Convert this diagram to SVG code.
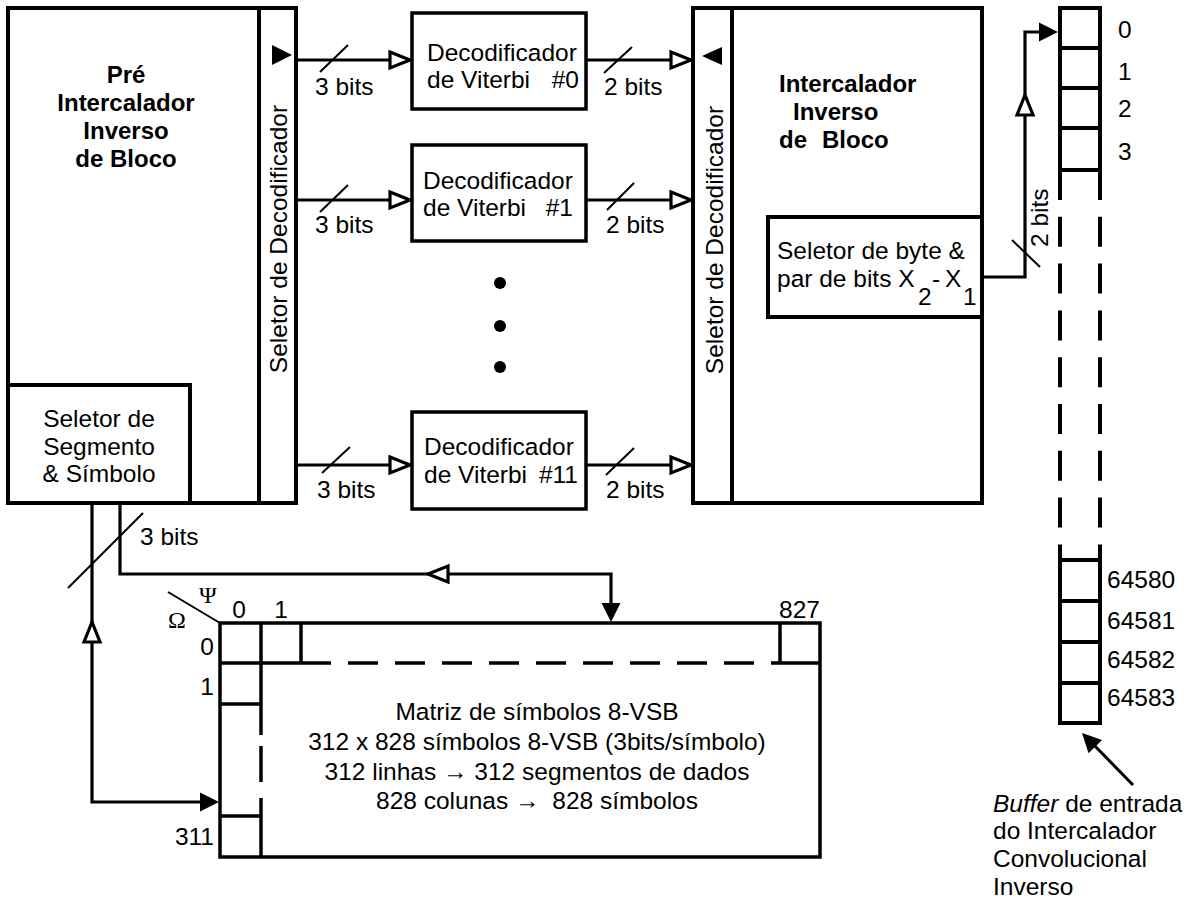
<svg xmlns="http://www.w3.org/2000/svg" width="1194" height="902" viewBox="0 0 1194 902">
<style>
.t{font-family:"Liberation Sans",Arial,sans-serif;font-size:24.5px;fill:#000}
.b{font-weight:bold;font-size:24px}
.s{font-family:"Liberation Serif","Times New Roman",serif;font-size:24px;fill:#000}
.m{text-anchor:middle}
.e{text-anchor:end}
.box{fill:#fff;stroke:#000;stroke-width:4}
.vb{fill:#fff;stroke:#000;stroke-width:3.5}
.ln{fill:none;stroke:#000;stroke-width:3.2}
.sl{fill:none;stroke:#000;stroke-width:2}
.dash{fill:none;stroke:#000;stroke-width:3.5;stroke-dasharray:30 17}
.oh{fill:#fff;stroke:#000;stroke-width:3.2;stroke-linejoin:miter}
.fh{fill:#000;stroke:none}
</style>
<defs>
<polygon id="oa" class="oh" points="-20,-8 0,0 -20,8"/>
<polygon id="fa" class="fh" points="-19,-9.5 0,0 -19,9.5"/>
</defs>
<rect width="1194" height="902" fill="#fff"/>

<g id="pre-intercalador">
<rect class="box" x="8" y="8" width="251" height="495"/>
<text class="t b m" x="126" y="83">Pré</text>
<text class="t b m" x="126" y="111">Intercalador</text>
<text class="t b m" x="126" y="139">Inverso</text>
<text class="t b m" x="126" y="167">de Bloco</text>
</g>
<g id="seletor-segmento">
<rect class="box" x="8" y="385" width="182" height="118"/>
<text class="t m" x="99" y="427">Seletor de</text>
<text class="t m" x="99" y="455">Segmento</text>
<text class="t m" x="99" y="482">&amp; Símbolo</text>
</g>
<g id="seletor-decodificador-esq">
<rect class="box" x="259" y="8" width="37" height="495"/>
<text class="t m" transform="translate(287,239) rotate(-90)">Seletor de Decodificador</text>
<polygon class="fh" points="272,45 292,55 272,65"/>
</g>

<g id="viterbi0">
<rect class="vb" x="412" y="13" width="174" height="96"/>
<text class="t" x="427" y="61">Decodificador</text>
<text class="t" x="427" y="88">de Viterbi</text>
<text class="t e" x="579" y="88">#0</text>
</g>
<g id="viterbi1">
<rect class="vb" x="412" y="145" width="174" height="96"/>
<text class="t" x="423" y="189">Decodificador</text>
<text class="t" x="423" y="216">de Viterbi</text>
<text class="t e" x="573" y="216">#1</text>
</g>
<g id="reticencias">
<circle cx="500" cy="283" r="6"/>
<circle cx="500" cy="326" r="6"/>
<circle cx="500" cy="367" r="6"/>
</g>
<g id="viterbi11">
<rect class="vb" x="412" y="412" width="174" height="97"/>
<text class="t" x="424" y="455">Decodificador</text>
<text class="t" x="424" y="483">de Viterbi</text>
<text class="t e" x="578" y="483">#11</text>
</g>

<g id="seletor-decodificador-dir">
<rect class="box" x="693" y="8" width="39" height="495"/>
<text class="t m" transform="translate(723,240) rotate(-90)">Seletor de Decodificador</text>
<polygon class="fh" points="722,47 702,56 722,65"/>
</g>
<g id="intercalador-inverso">
<rect class="box" x="732" y="8" width="250" height="495"/>
<text class="t b" x="779" y="92">Intercalador</text>
<text class="t b" x="793" y="120">Inverso</text>
<text class="t b" x="779" y="148">de</text>
<text class="t b" x="822" y="148">Bloco</text>
</g>
<g id="seletor-byte">
<rect class="box" x="768" y="217" width="214" height="100"/>
<text class="t" x="777" y="259">Seletor de byte &amp;</text>
<text class="t" x="777" y="287">par de bits X</text>
<text class="t" x="918" y="305">2</text>
<text class="t" x="932" y="287">-</text>
<text class="t" x="945" y="287">X</text>
<text class="t" x="963" y="305">1</text>
</g>

<g id="buffer">
<path class="ln" style="stroke-width:4" d="M1060,8 H1100 M1060,48 H1100 M1060,88 H1100 M1060,128 H1100 M1060,170 H1100 M1060,6 V170 M1100,6 V170"/>
<path class="dash" style="stroke-width:4;stroke-dasharray:30 16.8" d="M1060,170 V545 M1100,170 V545"/>
<path class="ln" style="stroke-width:4" d="M1060,545 V725 M1100,545 V725 M1060,560 H1100 M1060,601 H1100 M1060,642 H1100 M1060,683 H1100 M1060,723 H1100"/>
<text class="t" x="1118" y="38">0</text>
<text class="t" x="1118" y="80">1</text>
<text class="t" x="1118" y="117">2</text>
<text class="t" x="1118" y="160">3</text>
<text class="t" x="1107" y="588">64580</text>
<text class="t" x="1107" y="629">64581</text>
<text class="t" x="1107" y="668">64582</text>
<text class="t" x="1107" y="706">64583</text>
</g>
<g id="legenda-buffer">
<text class="t" x="993" y="812"><tspan font-style="italic">Buffer</tspan> de entrada</text>
<text class="t" x="993" y="839">do Intercalador</text>
<text class="t" x="993" y="867">Convolucional</text>
<text class="t" x="993" y="895">Inverso</text>
</g>

<g id="matriz">
<rect class="vb" x="220" y="623" width="600" height="234"/>
<path class="ln" style="stroke-width:3.5" d="M261,623 V735 M261,746 V782 M261,798 V857 M220,663 H301 M301,623 V663 M780,623 V663 M780,663 H820 M220,704 H261 M220,816 H261"/>
<path class="dash" d="M301,663 H780"/>
<path class="sl" d="M168,592 L220,623"/>
<text class="s" x="199" y="603">Ψ</text>
<text class="s" x="168" y="628">Ω</text>
<text class="t m" x="239" y="618">0</text>
<text class="t m" x="281" y="618">1</text>
<text class="t e" x="820" y="618">827</text>
<text class="t e" x="214" y="655">0</text>
<text class="t e" x="214" y="695">1</text>
<text class="t e" x="214" y="845">311</text>
<text class="t m" x="537" y="720">Matriz de símbolos 8-VSB</text>
<text class="t m" x="537" y="750">312 x 828 símbolos 8-VSB (3bits/símbolo)</text>
<text class="t m" x="537" y="780">312 linhas → 312 segmentos de dados</text>
<text class="t m" x="537" y="809">828 colunas →<tspan dx="6"> 828 símbolos</tspan></text>
</g>

<g id="conectores">
<path class="ln" d="M296,60 H408 M586,60 H689 M296,200 H408 M586,200 H689 M296,465 H408 M586,465 H689"/>
<use href="#oa" transform="translate(410,60)"/>
<use href="#oa" transform="translate(691,60)"/>
<use href="#oa" transform="translate(410,200)"/>
<use href="#oa" transform="translate(691,200)"/>
<use href="#oa" transform="translate(410,465)"/>
<use href="#oa" transform="translate(691,465)"/>
<path class="sl" d="M320,72 L348,45 M320,212 L348,185 M322,473 L350,447 M604,73 L632,47 M607,210 L634,183 M606,475 L634,448"/>
<text class="t" x="315" y="95">3 bits</text>
<text class="t" x="315" y="233">3 bits</text>
<text class="t" x="317" y="498">3 bits</text>
<text class="t" x="604" y="95">2 bits</text>
<text class="t" x="606" y="233">2 bits</text>
<text class="t" x="606" y="498">2 bits</text>

<path class="ln" d="M982,277 H1025 V32 H1045"/>
<use href="#fa" transform="translate(1058,32)"/>
<use href="#oa" transform="translate(1025,95) rotate(-90)"/>
<path class="sl" d="M1012,240 L1040,267"/>
<text class="t" transform="translate(1048,247) rotate(-90)">2 bits</text>

<path class="ln" d="M120,503 V574 H611 V608"/>
<use href="#fa" transform="translate(611,622) rotate(90)"/>
<use href="#oa" transform="translate(428,574) rotate(180)"/>
<path class="ln" d="M92,503 V802 H205"/>
<use href="#fa" transform="translate(219,802)"/>
<use href="#oa" transform="translate(92,622) rotate(-90)"/>
<path class="sl" d="M68,588 L143,513"/>
<text class="t" x="140" y="545">3 bits</text>

<path class="ln" style="stroke-width:3" d="M1133,785 L1092,743"/>
<use href="#fa" transform="translate(1082,733) rotate(225.6)"/>
</g>
</svg>
